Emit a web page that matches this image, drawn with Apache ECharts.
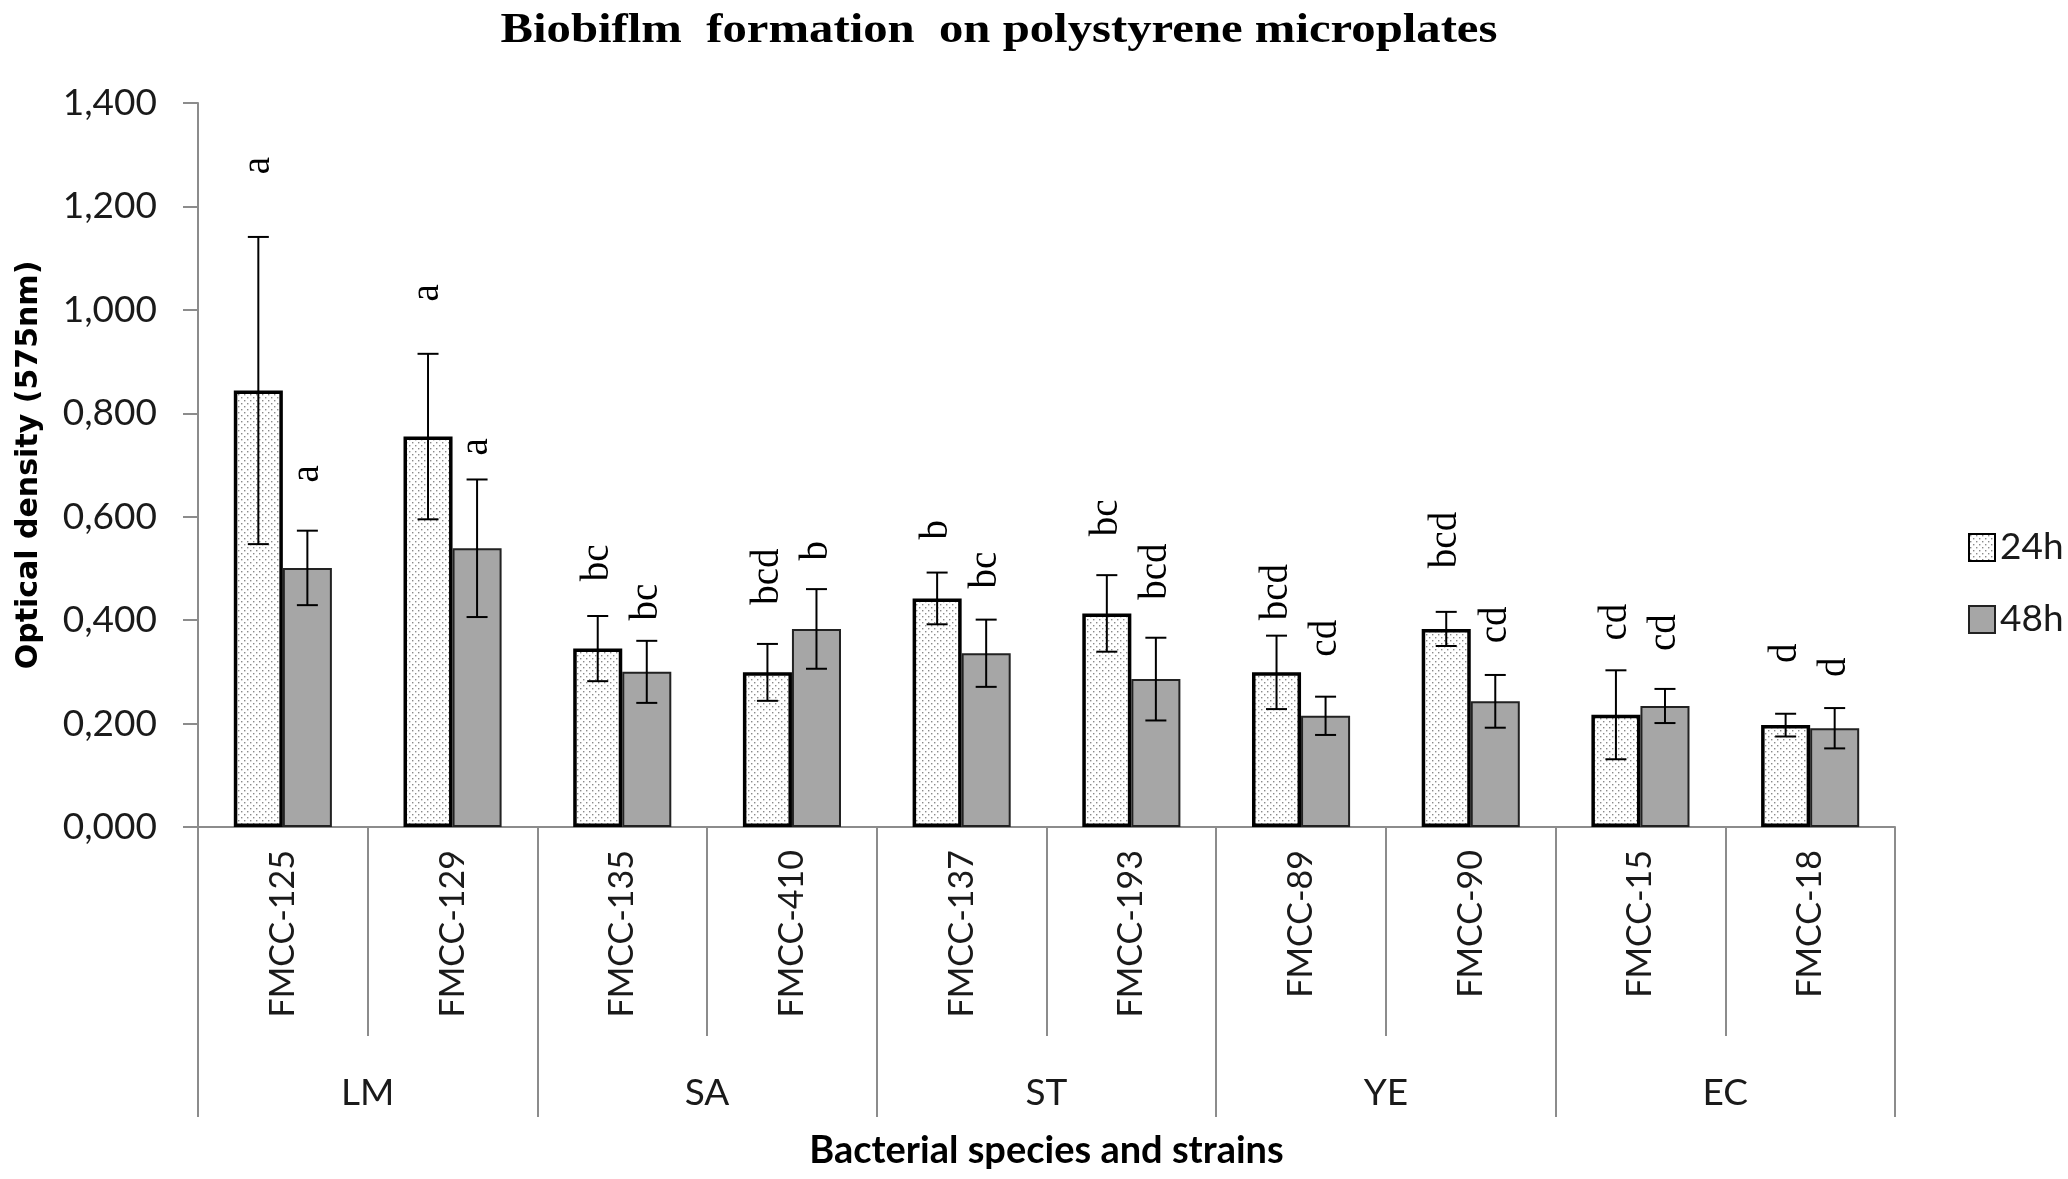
<!DOCTYPE html>
<html><head><meta charset="utf-8">
<script src="https://cdn.jsdelivr.net/npm/echarts@6/dist/echarts.min.js"></script>
<style>html,body{margin:0;padding:0;background:#fff}#c{width:2068px;height:1179px}</style>
</head><body><div id="c"></div>
<script>
const strains = ['FMCC-125','FMCC-129','FMCC-135','FMCC-410','FMCC-137','FMCC-193','FMCC-89','FMCC-90','FMCC-15','FMCC-18'];
const groups = ['LM','SA','ST','YE','EC'];
const seriesNames = ['24h','48h'];
const mean24 = [0.844, 0.755, 0.345, 0.299, 0.442, 0.413, 0.299, 0.383, 0.217, 0.197];
const sd24   = [0.297, 0.160, 0.063, 0.055, 0.050, 0.074, 0.071, 0.033, 0.086, 0.022];
const mean48 = [0.501, 0.539, 0.300, 0.383, 0.336, 0.286, 0.215, 0.243, 0.234, 0.191];
const sd48   = [0.072, 0.133, 0.060, 0.077, 0.065, 0.080, 0.037, 0.051, 0.033, 0.039];
const letters24 = ['a','a','bc','bcd','b','bc','bcd','bcd','cd','d'];
const letters48 = ['a','a','bc','b','bc','bcd','cd','cd','cd','d'];
const letterAt24 = [1.279, 1.033, 0.511, 0.484, 0.575, 0.598, 0.454, 0.555, 0.396, 0.336];
const letterAt48 = [0.683, 0.735, 0.435, 0.534, 0.497, 0.494, 0.365, 0.391, 0.376, 0.309];
const yTicks = {min: 0, max: 1.4, interval: 0.2};
const titleText = 'Biobiflm  formation  on polystyrene microplates';

const BAR_FRAC = 0.289;
const AX = '#8c8c8c';

const pc = document.createElement('canvas');
pc.width = 6; pc.height = 6;
const pctx = pc.getContext('2d');
pctx.fillStyle = '#ffffff'; pctx.fillRect(0,0,6,6);
pctx.fillStyle = '#8a8a8a';
pctx.fillRect(1,1,1.4,1.4); pctx.fillRect(4,4,1.4,1.4);
const dotFill = {image: pc, repeat: 'repeat'};

function errRender(sign){
  return function(params, api){
    const i = api.value(0), m = api.value(1), e = api.value(2);
    const bw = api.size([1,0])[0];
    const x = api.coord([i, m])[0] + sign * bw * BAR_FRAC / 2;
    const yT = api.coord([i, m + e])[1], yB = api.coord([i, m - e])[1];
    const cap = 10.5;
    const st = {stroke:'#000', lineWidth:2};
    return {type:'group', children:[
      {type:'line', shape:{x1:x,y1:yT,x2:x,y2:yB}, style:st},
      {type:'line', shape:{x1:x-cap,y1:yT,x2:x+cap,y2:yT}, style:st},
      {type:'line', shape:{x1:x-cap,y1:yB,x2:x+cap,y2:yB}, style:st}
    ]};
  };
}
function letterRender(sign, letters){
  return function(params, api){
    const i = api.value(0), p = api.value(1);
    const bw = api.size([1,0])[0];
    const c = api.coord([i, p]);
    return {type:'text', x: c[0] + sign * bw * BAR_FRAC / 2, y: c[1], rotation: Math.PI/2,
      style:{text: letters[params.dataIndex], fontFamily:'Liberation Serif', fontSize:39, fill:'#000',
        align:'center', verticalAlign:'middle', textAlign:'center', textVerticalAlign:'middle'}};
  };
}

const chart = echarts.init(document.getElementById('c'), null, {renderer:'canvas'});
chart.setOption({
  animation:false,
  backgroundColor:'#fff',
  graphic:[{type:'text', x:999, y:31, scaleX:1.16, silent:true,
    style:{text:titleText, fontFamily:'Liberation Serif', fontWeight:'bold', fontSize:42, fill:'#000',
      align:'center', verticalAlign:'middle', textAlign:'center', textVerticalAlign:'middle'}}],
  legend:{data:seriesNames, orient:'vertical', left:1963, top:524, itemWidth:26, itemHeight:27, itemGap:35,
    icon:'rect', textStyle:{fontFamily:'Lato', fontSize:37, color:'#1a1a1a'}},
  grid:{left:198, right:173, top:103, bottom:352, containLabel:false},
  xAxis:[
    {type:'category', data:strains, position:'bottom',
      axisLine:{show:true, lineStyle:{color:AX, width:2}},
      axisTick:{show:true, length:209, interval:0, alignWithLabel:false, lineStyle:{color:AX, width:2}},
      axisLabel:{rotate:90, margin:23, interval:0, fontFamily:'Lato', fontSize:34, color:'#1a1a1a'}},
    {type:'category', data:groups, position:'bottom',
      axisLine:{show:false},
      axisTick:{show:true, length:290, interval:0, alignWithLabel:false, lineStyle:{color:AX, width:2}},
      axisLabel:{margin:248, interval:0, fontFamily:'Lato', fontSize:37, color:'#1a1a1a'},
      name:'Bacterial species and strains', nameLocation:'middle', nameGap:305,
      nameTextStyle:{fontFamily:'Lato', fontWeight:'bold', fontSize:38, color:'#000'}}
  ],
  yAxis:{type:'value', min:yTicks.min, max:yTicks.max, interval:yTicks.interval,
    axisLine:{show:true, lineStyle:{color:AX, width:2}},
    axisTick:{show:true, length:15, lineStyle:{color:AX, width:2}},
    splitLine:{show:false},
    axisLabel:{margin:41, fontFamily:'Lato', fontSize:37, color:'#1a1a1a',
      formatter: v => v.toFixed(3).replace('.', ',')},
    name:'Optical density (575nm)', nameLocation:'middle', nameRotate:90, nameGap:154,
    nameTextStyle:{fontFamily:'DejaVu Sans', fontWeight:'bold', fontSize:30, color:'#000'}},
  series:[
    {name:'24h', type:'bar', xAxisIndex:0, data:mean24, barWidth:(BAR_FRAC*100)+'%', barGap:'0%',
      itemStyle:{color:dotFill, borderColor:'#000', borderWidth:3.5}},
    {name:'48h', type:'bar', xAxisIndex:0, data:mean48, barWidth:(BAR_FRAC*100)+'%', barGap:'0%',
      itemStyle:{color:'#a6a6a6', borderColor:'#222', borderWidth:2}},
    {type:'custom', xAxisIndex:0, renderItem:errRender(-1), data:mean24.map((m,i)=>[i,m,sd24[i]]), z:5, silent:true},
    {type:'custom', xAxisIndex:0, renderItem:errRender(1), data:mean48.map((m,i)=>[i,m,sd48[i]]), z:5, silent:true},
    {type:'custom', xAxisIndex:0, renderItem:letterRender(-1, letters24), data:letterAt24.map((p,i)=>[i,p]), z:6, silent:true},
    {type:'custom', xAxisIndex:0, renderItem:letterRender(1, letters48), data:letterAt48.map((p,i)=>[i,p]), z:6, silent:true}
  ]
});
</script></body></html>
